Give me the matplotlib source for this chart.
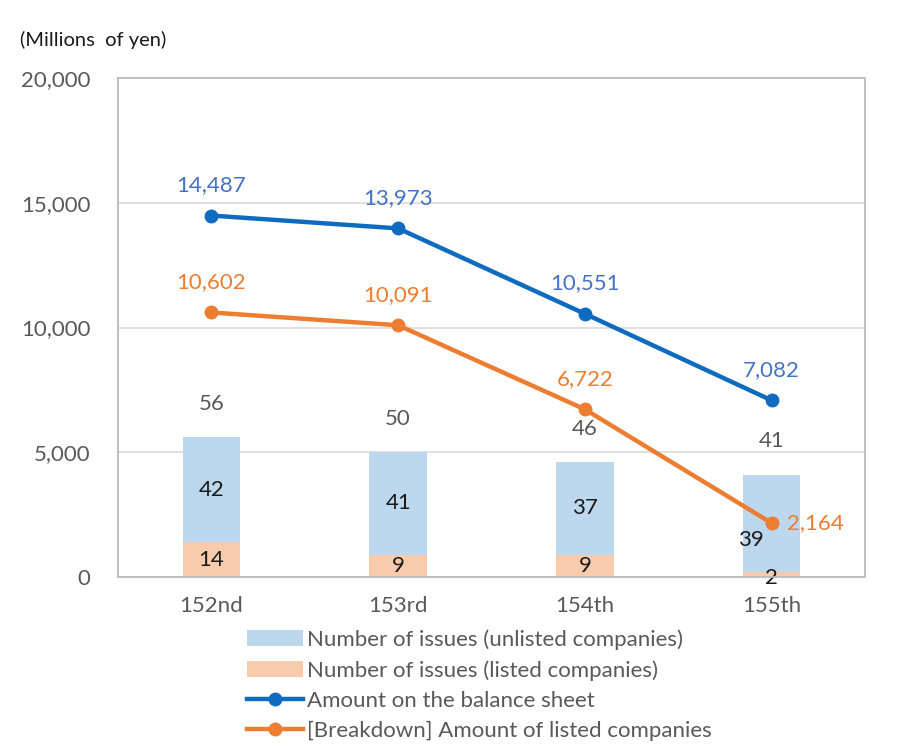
import matplotlib.pyplot as plt
import numpy as np

plt.rcParams['font.family'] = ['Lato', 'DejaVu Sans']

periods = ['152nd', '153rd', '154th', '155th']
balance_amount = [14487, 13973, 10551, 7082]      # millions of yen
listed_amount = [10602, 10091, 6722, 2164]
issues_unlisted = [42, 41, 37, 39]
issues_listed = [14, 9, 9, 2]
issues_total = [56, 50, 46, 41]

blue = '#0F6BBF'
orange = '#ED7D31'
blue_lbl = '#4472C4'
bar_blue = '#BDD7EE'
bar_orange = '#F8CBAD'
gray = '#595959'
fs = 16

x = np.arange(len(periods))

fig = plt.figure(figsize=(9.23, 7.53), dpi=100)
ax2 = fig.add_axes([0.128, 0.2337, 0.809, 0.6627])  # bars (counts), behind
ax = ax2.twinx()                                     # amounts, in front
ax.set_zorder(ax2.get_zorder() + 1)
ax.patch.set_visible(False)

# bars on the hidden count axis (0-200)
w = 0.31
b1 = ax2.bar(x, issues_listed, w, color=bar_orange, label='Number of issues (listed companies)')
b2 = ax2.bar(x, issues_unlisted, w, bottom=issues_listed, color=bar_blue,
             label='Number of issues (unlisted companies)')
ax2.set_ylim(0, 200)
ax2.set_yticks([0, 50, 100, 150, 200])
ax2.set_yticklabels([])
ax2.tick_params(length=0)
ax2.tick_params(axis='x', pad=14)
ax2.grid(axis='y', color='#D9D9D9', lw=1.2)
ax2.set_axisbelow(True)
ax2.set_xlim(-0.5, 3.5)
ax2.set_xticks(x)
ax2.set_xticklabels(periods, fontsize=fs, color=gray)

# lines on amount axis
l1, = ax.plot(x, balance_amount, color=blue, lw=3.2, marker='o', ms=9,
              label='Amount on the balance sheet')
l2, = ax.plot(x, listed_amount, color=orange, lw=3.2, marker='o', ms=9,
              label='[Breakdown] Amount of listed companies')
ax.set_ylim(0, 20000)
ax.yaxis.set_ticks_position('left')
ax.yaxis.set_label_position('left')
ax.set_yticks([0, 5000, 10000, 15000, 20000])
ax.set_yticklabels(['0', '5,000', '10,000', '15,000', '20,000'], fontsize=fs, color=gray)
ax.tick_params(length=0, pad=20)

for a in (ax, ax2):
    for s in a.spines.values():
        s.set_color('#BFBFBF')
        s.set_linewidth(1.2)

# data labels
for i in range(len(periods)):
    ax.annotate(f'{balance_amount[i]:,}', (x[i], balance_amount[i]), xytext=(0, 22),
                textcoords='offset points', ha='center', va='center', fontsize=fs, color=blue_lbl)
    if i < 3:
        ax.annotate(f'{listed_amount[i]:,}', (x[i], listed_amount[i]), xytext=(0, 22),
                    textcoords='offset points', ha='center', va='center', fontsize=fs, color=orange)
    else:
        ax.annotate(f'{listed_amount[i]:,}', (x[i], listed_amount[i]), xytext=(11, 0),
                    textcoords='offset points', ha='left', va='center', fontsize=fs, color=orange)
    ax2.annotate(str(issues_total[i]), (x[i], issues_total[i]), xytext=(0, 24),
                 textcoords='offset points', ha='center', va='center', fontsize=fs, color=gray)
    if i < 3:
        ax2.text(x[i], issues_listed[i] + issues_unlisted[i] / 2, str(issues_unlisted[i]),
                 ha='center', va='center', fontsize=fs, color='#1a1a1a')
        ax2.text(x[i], issues_listed[i] / 2, str(issues_listed[i]),
                 ha='center', va='center', fontsize=fs, color='#1a1a1a')
    else:
        ax2.annotate(str(issues_unlisted[i]), (x[i], issues_listed[i]), xytext=(-15, 23),
                     textcoords='offset points', ha='center', va='center', fontsize=fs, color='#1a1a1a')
        ax2.annotate(str(issues_listed[i]), (x[i], issues_listed[i]), xytext=(0, -4),
                     textcoords='offset points', ha='center', va='center', fontsize=fs, color='#1a1a1a')

fig.text(0.022, 0.947, '(Millions  of yen)', fontsize=14.5, color='#1a1a1a', va='center')

fig.legend([b2, b1, l1, l2],
           [b2.get_label(), b1.get_label(), l1.get_label(), l2.get_label()],
           loc='upper left', bbox_to_anchor=(0.258, 0.176), frameon=False,
           fontsize=fs, labelcolor=gray, handlelength=2.5, handletextpad=0.2,
           labelspacing=0.45, borderaxespad=0)

fig.savefig('out.png', dpi=100)
